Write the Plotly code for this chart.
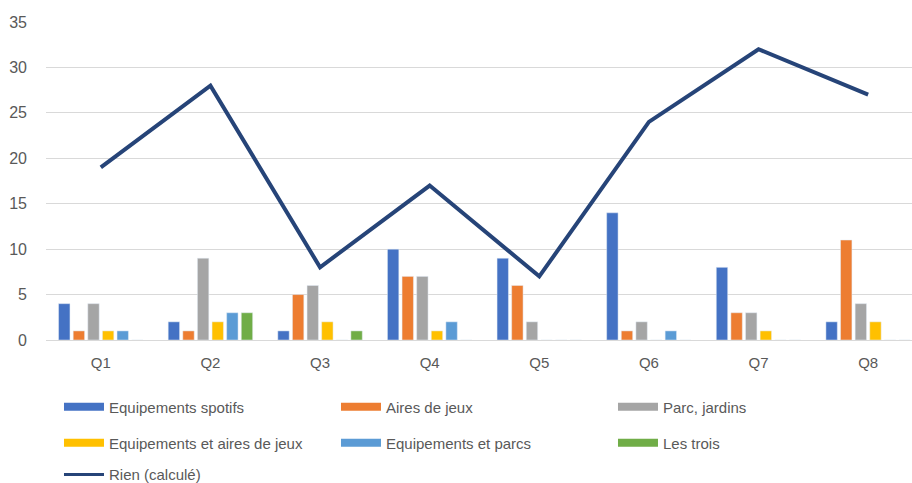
import plotly.graph_objects as go

categories = ["Q1", "Q2", "Q3", "Q4", "Q5", "Q6", "Q7", "Q8"]
equip_sportifs = [4, 2, 1, 10, 9, 14, 8, 2]
aires_jeux = [1, 1, 5, 7, 6, 1, 3, 11]
parc_jardins = [4, 9, 6, 7, 2, 2, 3, 4]
equip_aires = [1, 2, 2, 1, 0, 0, 1, 2]
equip_parcs = [1, 3, 0, 2, 0, 1, 0, 0]
les_trois = [0, 3, 1, 0, 0, 0, 0, 0]
rien = [19, 28, 8, 17, 7, 24, 32, 27]

bar_series = [
    ("Equipements spotifs", equip_sportifs, "#4472C4", "legend"),
    ("Aires de jeux", aires_jeux, "#ED7D31", "legend"),
    ("Parc, jardins", parc_jardins, "#A5A5A5", "legend"),
    ("Equipements et aires de jeux", equip_aires, "#FFC000", "legend2"),
    ("Equipements et parcs", equip_parcs, "#5B9BD5", "legend2"),
    ("Les trois", les_trois, "#70AD47", "legend2"),
]

fig = go.Figure()
for name, vals, color, lg in bar_series:
    fig.add_trace(go.Bar(x=categories, y=vals, name=name, marker_color=color,
                         showlegend=False))
fig.add_trace(go.Scatter(x=categories, y=rien, mode="lines", name="Rien (calculé)",
                         line=dict(color="#264478", width=4), showlegend=False))

# legend entries (wide colour swatches like the reference)
for name, vals, color, lg in bar_series:
    fig.add_trace(go.Scatter(x=[None], y=[None], mode="lines", name=name,
                             line=dict(color=color, width=8), legend=lg))
fig.add_trace(go.Scatter(x=[None], y=[None], mode="lines", name="Rien (calculé)",
                         line=dict(color="#264478", width=3), legend="legend3"))

font_family = "Liberation Sans, Arial, sans-serif"
leg_common = dict(orientation="h", x=0.015, xanchor="left", yanchor="middle",
                  entrywidth=222, entrywidthmode="pixels",
                  font=dict(family=font_family, size=15, color="#595959"),
                  bgcolor="rgba(0,0,0,0)", itemwidth=40)

fig.update_layout(
    width=912, height=483,
    margin=dict(l=46, r=0, t=22, b=143, autoexpand=False),
    paper_bgcolor="white", plot_bgcolor="white",
    barmode="group", bargap=0.2, bargroupgap=0.22,
    font=dict(family=font_family, size=15, color="#595959"),
    legend=dict(y=-0.211, **leg_common),
    legend2=dict(y=-0.324, **leg_common),
    legend3=dict(y=-0.424, **leg_common),
    xaxis=dict(range=[-0.5, 7.4], showgrid=False, showline=True, linecolor="#D9D9D9",
               linewidth=1, ticks="", ticklabelstandoff=9,
               tickfont=dict(size=15, color="#595959")),
    yaxis=dict(range=[0, 35], dtick=5, showgrid=True, gridcolor="#D9D9D9", gridwidth=1,
               zeroline=False, showline=False, ticks="", ticklabelstandoff=18,
               tickfont=dict(size=16, color="#595959")),
)

fig.write_html("out.html", config={"displayModeBar": False},
               post_script="document.body.style.margin='0';document.body.style.overflow='hidden';")
